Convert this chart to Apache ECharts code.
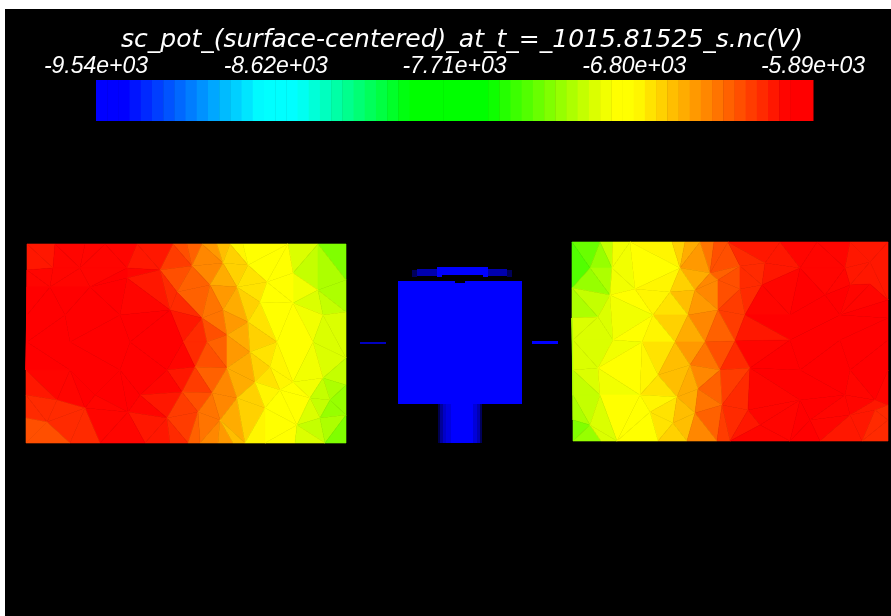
<!DOCTYPE html>
<html>
<head>
<meta charset="utf-8">
<style>
  html, body { margin: 0; padding: 0; background: #fff; }
  #chart { width: 891px; height: 616px; filter: blur(0.5px); }
</style>
<script src="https://cdn.jsdelivr.net/npm/echarts@6/dist/echarts.min.js"></script>
</head>
<body>
<div id="chart"></div>
<script>
const titleText = 'sc_pot_(surface-centered)_at_t_=_1015.81525_s.nc(V)'
const rangeMin = -9540
const rangeMax = -5890
const tickValues = [-9540, -8625, -7715, -6800, -5890]
const tickLabels = ['-9.54e+03', '-8.62e+03', '-7.71e+03', '-6.80e+03', '-5.89e+03']

// left edge of each colour bar band
const barLevels = [
  -9540, -9483, -9426, -9369, -9312, -9255, -9198, -9141, -9084, -9027, -8970, -8913, -8856, -8799, -8742, -8685,
  -8628, -8571, -8514, -8457, -8400, -8343, -8286, -8229, -8172, -8115, -8058, -8001, -7944, -7887, -7830, -7773,
  -7715, -7658, -7601, -7544, -7487, -7430, -7373, -7316, -7259, -7202, -7145, -7088, -7031, -6974, -6917, -6860,
  -6803, -6746, -6689, -6632, -6575, -6518, -6461, -6404, -6347, -6290, -6233, -6176, -6119, -6062, -6005, -5948,
]

// solar panel nodes: x, y, potential
const leftPanel = [
  [27, 244, -6090], [55, 244, -6060], [85, 244, -6040], [105, 244, -6040], [137, 244, -6040], [173, 244, -6150],
  [187, 244, -6240], [202, 244, -6380], [217, 244, -6560], [230, 244, -6680], [243, 244, -6800], [288, 244, -6950],
  [318, 244, -7130], [346, 244, -7420],
  [27, 270, -6060], [53, 268, -6040], [80, 268, -6030], [127, 268, -6010], [160, 270, -6150], [192, 266, -6350],
  [223, 263, -6560], [248, 265, -6760], [293, 273, -6950], [318, 290, -7070],
  [27, 287, -6020], [50, 287, -6010], [90, 287, -5990], [127, 278, -6000], [177, 292, -6200], [210, 285, -6450],
  [237, 287, -6620], [267, 282, -6820], [346, 280, -7150],
  [27, 315, -5980], [65, 315, -5960], [120, 315, -5960], [170, 310, -6060], [202, 318, -6250], [223, 310, -6450],
  [248, 322, -6620], [260, 302, -6780], [293, 303, -6880], [323, 315, -7000], [346, 312, -7060],
  [27, 342, -5970], [70, 342, -5960], [130, 342, -5960], [183, 342, -5990], [207, 342, -6200], [227, 335, -6400],
  [250, 352, -6620], [277, 342, -6800], [313, 342, -6930], [346, 358, -7000],
  [26, 370, -5990], [70, 370, -5960], [120, 370, -5960], [167, 370, -6010], [195, 367, -6170], [227, 368, -6400],
  [270, 367, -6700], [293, 382, -6860], [323, 378, -7020], [346, 385, -7130],
  [26, 395, -6060], [57, 400, -6150], [95, 395, -5990], [140, 395, -6000], [182, 392, -6110], [212, 393, -6330],
  [237, 398, -6520], [255, 382, -6680], [280, 390, -6780], [310, 398, -6980], [330, 400, -7160],
  [26, 418, -6200], [47, 422, -6220], [85, 408, -6060], [128, 412, -6020], [167, 418, -6150], [198, 412, -6300],
  [220, 420, -6480], [265, 408, -6780], [297, 425, -6920], [320, 418, -7080], [346, 415, -7220],
  [26, 443, -6280], [70, 443, -6240], [100, 443, -6060], [145, 443, -6050], [170, 443, -6140], [188, 443, -6200],
  [200, 443, -6400], [218, 443, -6500], [233, 443, -6560], [245, 443, -6720], [265, 443, -6830], [295, 443, -6950],
  [325, 443, -7130], [346, 443, -7420],
]

const rightPanel = [
  [572, 242, -7480], [600, 242, -7200], [613, 242, -7000], [630, 242, -6880], [672, 242, -6740], [685, 242, -6600],
  [700, 242, -6440], [714, 242, -6280], [728, 242, -6150], [780, 242, -6060], [817, 242, -6050], [850, 242, -6060],
  [888, 242, -6160],
  [590, 268, -7260], [612, 268, -7030], [680, 268, -6680], [710, 273, -6420], [740, 266, -6180], [765, 263, -6100],
  [800, 268, -6030], [845, 268, -6050], [870, 262, -6100],
  [572, 288, -7240], [610, 295, -7000], [635, 289, -6860], [670, 292, -6720], [695, 290, -6560], [718, 280, -6340],
  [740, 289, -6200], [762, 285, -6100], [825, 295, -5990], [850, 285, -6050], [870, 284, -6090], [888, 300, -6000],
  [598, 317, -6980], [653, 315, -6800], [688, 315, -6560], [718, 310, -6320], [745, 315, -6080], [790, 315, -5970],
  [840, 315, -5960], [888, 318, -5980], [572, 318, -7060],
  [573, 340, -7040], [613, 340, -6960], [642, 342, -6840], [675, 342, -6620], [705, 342, -6400], [735, 341, -6150],
  [790, 340, -5960], [840, 340, -5960], [888, 340, -5970],
  [573, 370, -7040], [598, 368, -6990], [658, 375, -6720], [690, 365, -6520], [720, 370, -6280], [750, 368, -6070],
  [800, 370, -5960], [850, 370, -5970], [888, 370, -5980],
  [573, 395, -7080], [600, 395, -7000], [640, 395, -6820], [677, 397, -6640], [698, 389, -6440], [722, 405, -6260],
  [748, 410, -6100], [800, 400, -5980], [845, 395, -5990], [875, 400, -6060], [888, 405, -6100],
  [590, 425, -7080], [650, 412, -6780], [673, 423, -6680], [695, 413, -6480], [760, 425, -6060], [810, 420, -6000],
  [850, 415, -6080], [875, 410, -6130], [573, 420, -7180], [888, 420, -6140],
  [573, 441, -7400], [601, 441, -7060], [617, 441, -6920], [658, 441, -6760], [687, 441, -6580], [717, 441, -6280],
  [730, 441, -6080], [790, 441, -6000], [820, 441, -6000], [862, 441, -6120], [888, 441, -6220],
]

// spacecraft body boxes: x0, y0, x1, y1, brightness
const bodyParts = [
  [398, 281, 522, 404, 1],
  [412, 270, 417, 277, 0.35],
  [417, 269, 437, 276, 0.68],
  [437, 267, 488, 275, 1],
  [437, 275, 442, 277, 1],
  [483, 275, 488, 277, 1],
  [488, 269, 507, 276, 0.68],
  [507, 270, 512, 277, 0.35],
  [360, 342, 386, 344, 0.75],
  [532, 341, 558, 344, 1],
  [438, 404, 440, 443, 0.3],
  [440, 404, 443, 443, 0.6],
  [443, 404, 446, 443, 0.78],
  [446, 404, 451, 443, 0.88],
  [451, 404, 473, 443, 1],
  [473, 404, 477, 443, 0.85],
  [477, 404, 480, 443, 0.7],
  [480, 404, 482, 443, 0.35],
]
const notches = [[455, 281, 465, 283]]

const rampStops = [
  [0, 0, 0, 255], [0.04, 0, 0, 255], [0.23, 0, 255, 255], [0.28, 0, 255, 255], [0.44, 0, 255, 0],
  [0.545, 0, 255, 0], [0.72, 255, 255, 0], [0.75, 255, 255, 0], [0.965, 255, 0, 0], [1, 255, 0, 0],
]

function potentialColor(value) {
  const band = Math.max(0, Math.min(63, Math.floor(((value - rangeMin) / (rangeMax - rangeMin)) * 64)))
  const t = (band + 0.5) / 64
  let i = 0
  while (i < rampStops.length - 2 && t > rampStops[i + 1][0]) {
    i++
  }
  const a = rampStops[i]
  const b = rampStops[i + 1]
  const k = (t - a[0]) / (b[0] - a[0])
  const mix = (n) => Math.round(a[n] + (b[n] - a[n]) * k)
  return `rgb(${mix(1)},${mix(2)},${mix(3)})`
}

// plain Bowyer-Watson, the panels are convex so nothing needs clipping afterwards
function triangulate(nodes) {
  const pts = nodes.concat([[-5000, -5000, 0], [6000, -5000, 0], [500, 8000, 0]])
  const n = nodes.length
  let tris = [[n, n + 1, n + 2]]
  const inCircle = (tri, p) => {
    const [a, b, c] = tri.map((idx) => pts[idx])
    const ax = a[0] - p[0], ay = a[1] - p[1]
    const bx = b[0] - p[0], by = b[1] - p[1]
    const cx = c[0] - p[0], cy = c[1] - p[1]
    const det =
      (ax * ax + ay * ay) * (bx * cy - cx * by) -
      (bx * bx + by * by) * (ax * cy - cx * ay) +
      (cx * cx + cy * cy) * (ax * by - bx * ay)
    const orient = (b[0] - a[0]) * (c[1] - a[1]) - (b[1] - a[1]) * (c[0] - a[0])
    return orient > 0 ? det > 0 : det < 0
  }
  for (let i = 0; i < n; i++) {
    const bad = tris.filter((tri) => inCircle(tri, pts[i]))
    const edges = {}
    bad.forEach((tri) => {
      for (let e = 0; e < 3; e++) {
        const u = tri[e]
        const v = tri[(e + 1) % 3]
        const key = u < v ? `${u}_${v}` : `${v}_${u}`
        edges[key] = edges[key] ? null : [u, v]
      }
    })
    tris = tris.filter((tri) => !bad.includes(tri))
    Object.values(edges).forEach((edge) => {
      if (edge) {
        tris.push([edge[0], edge[1], i])
      }
    })
  }
  return tris.filter((tri) => tri.every((idx) => idx < n))
}

function meshRows(nodes) {
  return triangulate(nodes).map((tri) => {
    const [a, b, c] = tri.map((idx) => nodes[idx])
    return [a[0], a[1], b[0], b[1], c[0], c[1], (a[2] + b[2] + c[2]) / 3]
  })
}

function renderTriangle(params, api) {
  const points = [0, 2, 4].map((n) => api.coord([api.value(n), api.value(n + 1)]))
  const color = potentialColor(api.value(6))
  return {
    type: 'polygon',
    shape: { points },
    style: { fill: color, stroke: color, lineWidth: 0.6 },
  }
}

function renderBox(color) {
  return (params, api) => {
    const p0 = api.coord([api.value(0), api.value(1)])
    const p1 = api.coord([api.value(2), api.value(3)])
    const shade = color || `rgb(0,0,${Math.round(255 * api.value(4))})`
    return {
      type: 'rect',
      shape: { x: p0[0], y: p0[1], width: p1[0] - p0[0], height: p1[1] - p0[1] },
      style: { fill: shade },
    }
  }
}

function renderBand(params, api) {
  const left = api.value(0)
  const next = params.dataIndex + 1 < barLevels.length ? barLevels[params.dataIndex + 1] : rangeMax
  const p0 = api.coord([left, 1])
  const p1 = api.coord([next, 0])
  return {
    type: 'rect',
    shape: { x: p0[0], y: p0[1], width: p1[0] - p0[0] + 0.5, height: p1[1] - p0[1] },
    style: { fill: potentialColor(left + 28) },
  }
}

const chart = echarts.init(document.getElementById('chart'), null, { renderer: 'canvas' })

chart.setOption({
  animation: false,
  backgroundColor: '#ffffff',
  title: {
    text: titleText,
    left: 457,
    top: 23,
    textAlign: 'center',
    textStyle: { color: '#ffffff', fontFamily: 'DejaVu Sans', fontStyle: 'italic', fontWeight: 'normal', fontSize: 25 },
  },
  grid: [
    { left: 5, top: 9, right: 0, bottom: 0, show: true, backgroundColor: '#000000', borderWidth: 0 },
    { left: 96, top: 80, width: 717, height: 41, show: false },
  ],
  xAxis: [
    { type: 'value', gridIndex: 0, min: 5, max: 891, show: false },
    {
      type: 'value',
      gridIndex: 1,
      min: rangeMin,
      max: rangeMax,
      position: 'top',
      axisLine: { show: false },
      axisTick: { show: false },
      splitLine: { show: false },
      axisLabel: {
        customValues: tickValues,
        formatter: (value) => tickLabels[tickValues.indexOf(value)],
        color: '#ffffff',
        fontFamily: 'Liberation Sans',
        fontStyle: 'italic',
        fontSize: 23,
        margin: 2,
        hideOverlap: false,
      },
    },
  ],
  yAxis: [
    { type: 'value', gridIndex: 0, min: 9, max: 616, inverse: true, show: false },
    { type: 'value', gridIndex: 1, min: 0, max: 1, show: false },
  ],
  series: [
    { type: 'custom', name: 'left panel', renderItem: renderTriangle, data: meshRows(leftPanel), silent: true, clip: false },
    { type: 'custom', name: 'right panel', renderItem: renderTriangle, data: meshRows(rightPanel), silent: true, clip: false },
    { type: 'custom', name: 'body', renderItem: renderBox(), data: bodyParts, silent: true, clip: false },
    { type: 'custom', name: 'notches', renderItem: renderBox('#000000'), data: notches, silent: true, clip: false },
    {
      type: 'custom',
      name: 'colour bar',
      xAxisIndex: 1,
      yAxisIndex: 1,
      renderItem: renderBand,
      data: barLevels.map((level) => [level]),
      silent: true,
      clip: false,
    },
  ],
})
</script>
</body>
</html>
